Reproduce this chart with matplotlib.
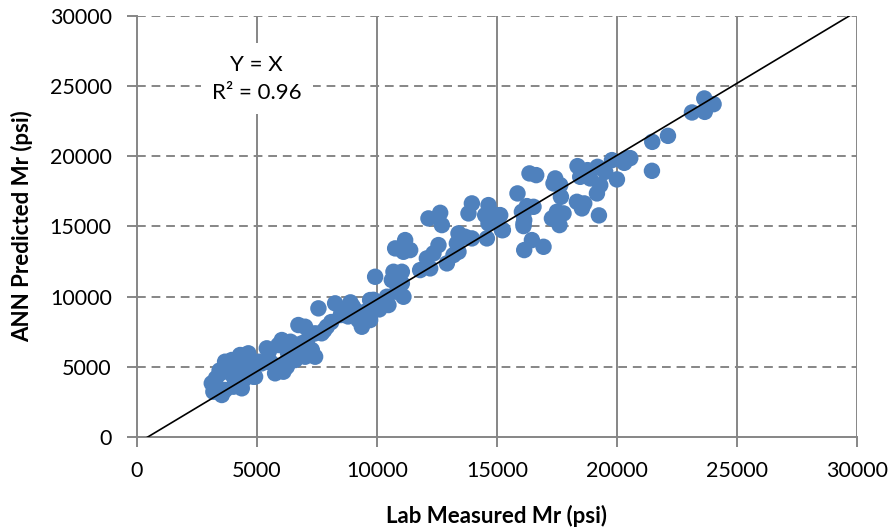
import matplotlib
matplotlib.use("Agg")
import matplotlib.pyplot as plt

# Lab measured vs. ANN predicted resilient modulus (psi)
lab_mr = [
    23638, 24025, 23658, 23125, 21471, 22125, 21458, 20554,
    19792, 20388, 20304, 20000, 16358, 16638, 18358, 18775, 19192, 19513,
    18471, 18888, 17429, 17638, 17358, 19304, 19167, 15858, 17667, 18333,
    18638, 18542, 16250, 16525, 16042, 17500, 17775, 17292, 19250, 16138,
    16108, 17608, 15138, 15250, 16458, 16138, 16942,
    13958, 14650, 12638, 12150, 12708, 13817, 14513, 15000, 14650, 15208,
    14583, 16108, 16108, 11179, 10763, 11108, 11388, 13400, 13679, 13958,
    13333, 12567, 12358, 12083, 13192, 12917, 12221, 11804, 13400, 9929,
    10692, 11042, 10625, 11042, 10833, 11108, 10417, 10483, 9721, 9721,
    7567, 8263, 8542, 9096, 9513, 9721, 9233, 9375, 6733, 7013,
    7429, 7917, 6042, 5900, 6458, 5417, 6875, 7292, 7429, 7013,
    6596, 6250, 5763, 6108, 4513, 3679, 3958, 4233, 4721, 4929,
    3471, 3125, 3192, 3679, 4096, 4375, 3817, 4233, 4513, 5208,
    3542, 8800, 9000, 8100, 6300, 5600, 4800, 4000, 6900, 7700,
    5070, 4650, 4304, 3450, 3300, 4025, 4442, 4858, 6200, 6600,
    7100, 7800, 8500, 8900, 9860, 10100, 5500, 6400,
]
ann_mr = [
    24111, 23705, 23158, 23115, 21024, 21451, 18962, 19865,
    19723, 19844, 19531, 18350, 18777, 18656, 19296, 19011, 19246, 18890,
    18535, 18421, 18421, 17945, 18065, 17945, 17354, 17354, 17113, 16757,
    16643, 16287, 16450, 16401, 16046, 16046, 15932, 15576, 15790, 15455,
    15029, 15100, 15811, 14744, 14033, 13322, 13556,
    16643, 16522, 15974, 15576, 15100, 15932, 15811, 15811, 15218, 14744,
    14153, 15932, 15218, 14033, 13442, 13200, 13322, 14509, 14268, 14153,
    13798, 13677, 13087, 12731, 12966, 12375, 12020, 11899, 13200, 11422,
    11778, 11778, 11188, 10953, 10356, 10000, 10000, 9410, 9765, 8343,
    9175, 9531, 8933, 9054, 8933, 9175, 8343, 7866, 7987, 7866,
    7397, 7866, 6920, 6565, 6686, 6330, 6686, 6209, 5733, 5733,
    5498, 5021, 4552, 4666, 5853, 5377, 5498, 5263, 5377, 4310,
    4552, 3841, 3243, 3364, 3841, 3485, 4666, 4310, 4666, 5263,
    3009, 8600, 9300, 8200, 6000, 5300, 5100, 4400, 6400, 7400,
    5377, 5975, 5853, 4750, 4200, 3600, 4075, 4310, 5300, 6200,
    6900, 7600, 8700, 9600, 9780, 9100, 6100, 6800,
]

# Fitted line endpoints
fit_x = [440, 29690]
fit_y = [0, 30000]

x_ticks = [0, 5000, 10000, 15000, 20000, 25000, 30000]
y_ticks = [0, 5000, 10000, 15000, 20000, 25000, 30000]

plt.rcParams["font.family"] = ["Lato", "DejaVu Sans"]

grid_color = "#868686"
point_color = "#4F81BD"

fig = plt.figure(figsize=(8.92, 5.31), dpi=100)
ax = fig.add_axes([0.1533, 0.1765, 0.8075, 0.7939])

ax.set_xlim(0, 30000)
ax.set_ylim(0, 30000)
ax.set_xticks(x_ticks)
ax.set_yticks(y_ticks)

# vertical grid solid, horizontal grid dashed
for xv in x_ticks[1:]:
    ax.axvline(xv, color=grid_color, lw=1.4, zorder=0.5)
for yv in y_ticks[1:]:
    ax.axhline(yv, color=grid_color, lw=1.4, ls=(0, (4.5, 3)), zorder=0.5)

ax.scatter(lab_mr, ann_mr, s=140, color=point_color, edgecolors="none",
           zorder=2, clip_on=False)
ax.plot(fit_x, fit_y, color="black", lw=1.2, zorder=3)

ax.text(5000, 25500, "Y = X\nR\u00b2 = 0.96", ha="center", va="center",
        fontsize=16, linespacing=1.55, zorder=4,
        bbox=dict(facecolor="white", edgecolor="none", pad=8))

for side in ["top", "right"]:
    ax.spines[side].set_visible(False)
for side in ["left", "bottom"]:
    ax.spines[side].set_color(grid_color)
    ax.spines[side].set_linewidth(1.4)

ax.tick_params(axis="both", direction="out", length=7, width=1.4,
               color=grid_color, labelsize=15.5, labelcolor="black")
ax.tick_params(axis="x", pad=10)
ax.tick_params(axis="y", pad=11)
ax.set_xticklabels([str(t) for t in x_ticks])
ax.set_yticklabels([str(t) for t in y_ticks])

ax.set_xlabel("Lab Measured Mr (psi)", fontsize=16, fontweight="bold",
              labelpad=17)
ax.set_ylabel("ANN Predicted Mr (psi)", fontsize=16, fontweight="bold",
              labelpad=12)

fig.savefig("out.png", dpi=100)
